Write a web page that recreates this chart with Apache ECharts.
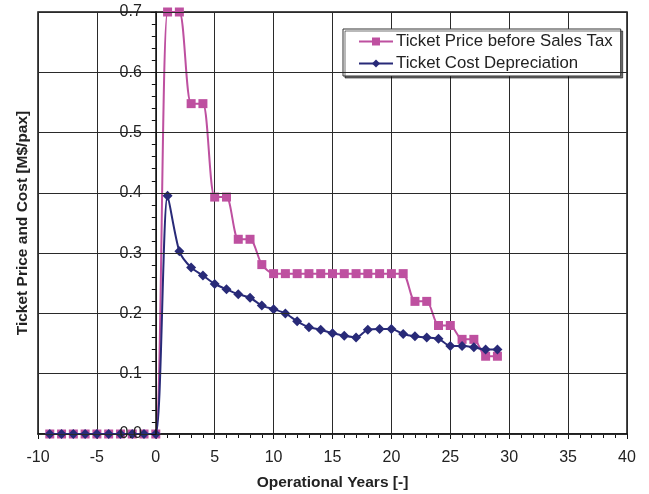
<!DOCTYPE html>
<html>
<head>
<meta charset="utf-8">
<title>Ticket Price and Cost</title>
<script src="https://cdn.jsdelivr.net/npm/echarts@6/dist/echarts.min.js"></script>
<style>
  html, body { margin: 0; padding: 0; background: #fff; }
  #chart { width: 649px; height: 494px; }
</style>
</head>
<body>
<div id="chart"></div>
<script>
// Operational years (negative = before service entry)
const years = [-9, -8, -7, -6, -5, -4, -3, -2, -1, 0,
  1, 2, 3, 4, 5, 6, 7, 8, 9, 10, 11, 12, 13, 14, 15, 16, 17, 18, 19, 20,
  21, 22, 23, 24, 25, 26, 27, 28, 29];

// Ticket price before sales tax [M$/pax]
const ticketPrice = [0, 0, 0, 0, 0, 0, 0, 0, 0, 0,
  0.700, 0.700, 0.548, 0.548, 0.393, 0.393, 0.323, 0.323, 0.281, 0.266,
  0.266, 0.266, 0.266, 0.266, 0.266, 0.266, 0.266, 0.266, 0.266, 0.266,
  0.266, 0.220, 0.220, 0.180, 0.180, 0.157, 0.157, 0.129, 0.129];

// Ticket cost depreciation [M$/pax]
const costDepreciation = [0, 0, 0, 0, 0, 0, 0, 0, 0, 0,
  0.395, 0.303, 0.276, 0.263, 0.249, 0.240, 0.232, 0.226, 0.213, 0.207,
  0.200, 0.187, 0.177, 0.173, 0.167, 0.163, 0.160, 0.173, 0.174, 0.174,
  0.166, 0.162, 0.160, 0.158, 0.146, 0.146, 0.144, 0.140, 0.140];

const seriesNames = ['Ticket Price before Sales Tax', 'Ticket Cost Depreciation'];
const xTitle = 'Operational Years [-]';
const yTitle = 'Ticket Price and Cost [M$/pax]';

const pink = '#BE50A0';
const navy = '#282A78';
const font = '"Liberation Sans", Arial, sans-serif';

// plot box (pixels) and x range; the value axis is drawn where x = 0
const gridLeft = 38, gridRight = 22, width = 649;
const xMin = -10, xMax = 40;
const zeroOffset = (0 - xMin) / (xMax - xMin) * (width - gridLeft - gridRight);

const pairs = (ys) => years.map((x, i) => [x, ys[i]]);

const chart = echarts.init(document.getElementById('chart'), null, { renderer: 'canvas' });

chart.setOption({
  animation: false,
  backgroundColor: '#fff',
  textStyle: { fontFamily: font },
  grid: {
    left: gridLeft, right: gridRight, top: 12, bottom: 60,
    containLabel: false,
    outerBoundsMode: 'none',
    show: true, borderColor: '#111', borderWidth: 1.5, backgroundColor: '#fff'
  },
  legend: {
    orient: 'vertical',
    left: 343, top: 29,
    padding: [4, 8, 4, 15],
    itemGap: 5,
    itemWidth: 34, itemHeight: 10,
    backgroundColor: '#fff',
    borderColor: '#333', borderWidth: 1, borderRadius: 0,
    shadowColor: 'rgba(0,0,0,0.55)', shadowOffsetX: 2, shadowOffsetY: 2, shadowBlur: 0,
    textStyle: { fontSize: 16.8, color: '#222', fontFamily: font, padding: [0, 0, 0, -2] },
    data: seriesNames
  },
  xAxis: {
    type: 'value',
    min: xMin, max: xMax, interval: 5,
    name: xTitle, nameLocation: 'middle', nameGap: 41,
    nameTextStyle: { fontSize: 15.5, fontWeight: 'bold', color: '#222', fontFamily: font },
    axisLine: { onZero: false, lineStyle: { color: '#111', width: 1.5 } },
    axisTick: { show: true, length: 5, lineStyle: { color: '#111', width: 1 } },
    minorTick: { show: true, splitNumber: 5, length: 4, lineStyle: { color: '#111', width: 1 } },
    axisLabel: { fontSize: 16, color: '#222', margin: 16, fontFamily: font },
    splitLine: { show: true, lineStyle: { color: '#2a2a2a', width: 1 } }
  },
  yAxis: {
    type: 'value',
    min: 0, max: 0.7, interval: 0.1,
    position: 'left',
    offset: -zeroOffset,
    name: yTitle, nameLocation: 'middle', nameGap: 7 + zeroOffset,
    nameTextStyle: { fontSize: 15.5, fontWeight: 'bold', color: '#222', fontFamily: font },
    axisLine: { onZero: false, lineStyle: { color: '#111', width: 1.5 } },
    axisTick: { show: true, length: 5, lineStyle: { color: '#111', width: 1 } },
    minorTick: { show: true, splitNumber: 5, length: 4, lineStyle: { color: '#111', width: 1 } },
    axisLabel: {
      fontSize: 16, color: '#222', margin: 14, fontFamily: font,
      formatter: (v) => v.toFixed(1)
    },
    splitLine: { show: true, lineStyle: { color: '#2a2a2a', width: 1 } },
    z: 5
  },
  series: [
    {
      name: seriesNames[0],
      type: 'line',
      data: pairs(ticketPrice),
      smooth: 0.25,
      symbol: 'rect', symbolSize: 9,
      itemStyle: { color: pink },
      lineStyle: { color: pink, width: 2 },
      clip: false,
      z: 3
    },
    {
      name: seriesNames[1],
      type: 'line',
      data: pairs(costDepreciation),
      smooth: 0.25,
      symbol: 'diamond', symbolSize: 10,
      itemStyle: { color: navy },
      lineStyle: { color: navy, width: 2 },
      clip: false,
      z: 4
    }
  ]
});
</script>
</body>
</html>
